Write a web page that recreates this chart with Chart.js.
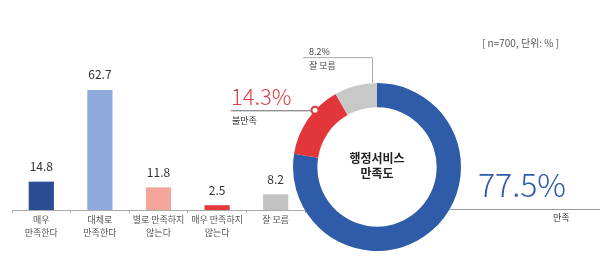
<!DOCTYPE html>
<html>
<head>
<meta charset="utf-8">
<script src="https://cdn.jsdelivr.net/npm/chart.js@4"></script>
<style>
  body { margin: 0; background: #fff; }
  #wrap { position: relative; width: 600px; height: 269px; }
  canvas { position: absolute; left: 0; top: 0; }
</style>
</head>
<body>
<div id="wrap">
  <canvas id="barChart" width="320" height="269"></canvas>
  <canvas id="donutChart" width="600" height="269"></canvas>
</div>
<script>
const categories = [["매우", "만족한다"], ["대체로", "만족한다"], ["별로 만족하지", "않는다"], ["매우 만족하지", "않는다"], "잘 모름"];
const barValues = [14.8, 62.7, 11.8, 2.5, 8.2];
const barColors = ["#2b4c92", "#8eaadc", "#f4a59b", "#e2393a", "#c2c2c2"];

const donutLabels = ["만족", "불만족", "잘 모름"];
const donutValues = [77.5, 14.3, 8.2];
const donutColors = ["#2f5ca9", "#e3363a", "#c8c8c8"];

const centerTitle = ["행정서비스", "만족도"];
const noteText = "[ n=700, 단위: % ]";

const FONT = "'Noto Sans CJK KR', 'Noto Sans', sans-serif";
Chart.defaults.font.family = FONT;

// numbers above the bars
const valueLabels = {
  id: "valueLabels",
  afterDatasetsDraw(chart) {
    const ctx = chart.ctx;
    ctx.save();
    ctx.font = "12px " + FONT;
    ctx.fillStyle = "#333";
    ctx.textAlign = "center";
    ctx.textBaseline = "middle";
    chart.getDatasetMeta(0).data.forEach((bar, i) => {
      ctx.fillText(barValues[i].toFixed(1), bar.x, bar.y - 15);
    });
    ctx.restore();
  },
};

// center title, leader lines and big percentages
const donutNotes = {
  id: "donutNotes",
  afterDraw(chart) {
    const ctx = chart.ctx;
    const arcs = chart.getDatasetMeta(0).data;
    const cx = arcs[0].x, cy = arcs[0].y, r = arcs[0].outerRadius;
    ctx.save();

    ctx.fillStyle = "#222";
    ctx.textAlign = "center";
    ctx.textBaseline = "middle";
    ctx.font = "bold 12px " + FONT;
    ctx.fillText(centerTitle[0], cx, cy - 9);
    ctx.fillText(centerTitle[1], cx, cy + 6);

    ctx.textAlign = "left";
    ctx.font = "10px " + FONT;
    ctx.fillStyle = "#555";
    ctx.fillText(noteText, 482, 43);

    // 불만족
    const red = arcs[1];
    const a1 = red.startAngle + (red.endAngle - red.startAngle) * 0.65;
    const px = cx + Math.cos(a1) * r, py = cy + Math.sin(a1) * r;
    ctx.strokeStyle = "#666";
    ctx.lineWidth = 1;
    ctx.beginPath();
    ctx.moveTo(231, py + 0.5);
    ctx.lineTo(px, py + 0.5);
    ctx.stroke();
    ctx.beginPath();
    ctx.arc(px, py, 3.5, 0, Math.PI * 2);
    ctx.fillStyle = "#fff";
    ctx.fill();
    ctx.strokeStyle = donutColors[1];
    ctx.lineWidth = 2;
    ctx.stroke();
    ctx.fillStyle = "#dc3c40";
    ctx.font = "300 22px " + FONT;
    ctx.textBaseline = "alphabetic";
    ctx.fillText(donutValues[1] + "%", 231, py - 5);
    ctx.fillStyle = "#333";
    ctx.font = "9px " + FONT;
    ctx.textBaseline = "middle";
    ctx.fillText(donutLabels[1], 232, py + 10);

    // 잘 모름
    const gray = arcs[2];
    const a2 = gray.endAngle - 0.06;
    const gx = cx + Math.cos(a2) * r, gy = cy + Math.sin(a2) * r;
    const ly = gy - 26;
    ctx.strokeStyle = "#aaa";
    ctx.lineWidth = 1;
    ctx.beginPath();
    ctx.moveTo(Math.round(gx) + 0.5, gy);
    ctx.lineTo(Math.round(gx) + 0.5, ly + 0.5);
    ctx.lineTo(303, ly + 0.5);
    ctx.stroke();
    ctx.fillStyle = "#444";
    ctx.font = "9px " + FONT;
    ctx.fillText(donutValues[2] + "%", 309, ly - 6);
    ctx.fillText(donutLabels[2], 309, ly + 8);

    // 만족
    const a0 = Math.PI / 6;
    const bx = cx + Math.cos(a0) * r, by = cy + Math.sin(a0) * r;
    ctx.strokeStyle = "#999";
    ctx.beginPath();
    ctx.moveTo(bx, by + 0.5);
    ctx.lineTo(600, by + 0.5);
    ctx.stroke();
    ctx.fillStyle = donutColors[0];
    ctx.font = "300 32px " + FONT;
    ctx.textBaseline = "alphabetic";
    ctx.fillText(donutValues[0] + "%", 478, by - 12);
    ctx.fillStyle = "#333";
    ctx.font = "9px " + FONT;
    ctx.textBaseline = "middle";
    ctx.fillText(donutLabels[0], 553, by + 9);

    ctx.restore();
  },
};

const barChart = new Chart(document.getElementById("barChart").getContext("2d"), {
  type: "bar",
  data: {
    labels: categories,
    datasets: [
      {
        data: barValues,
        backgroundColor: barColors,
        categoryPercentage: 1,
        barPercentage: 0.43,
      },
    ],
  },
  options: {
    responsive: false,
    animation: false,
    events: [],
    layout: { padding: { left: 12, right: 15, top: 30, bottom: 0 } },
    plugins: {
      legend: { display: false },
      tooltip: { enabled: false },
    },
    scales: {
      x: {
        afterFit: (scale) => {
          scale.height = 59;
        },
        border: { display: true, color: "#aaa" },
        grid: { drawOnChartArea: false, drawTicks: true, tickLength: 3, color: "#aaa" },
        ticks: {
          color: "#555",
          padding: 0,
          font: { size: 9, lineHeight: 1.45 },
          maxRotation: 0,
          autoSkip: false,
        },
      },
      y: { display: false, min: 0, max: 94 },
    },
  },
  plugins: [valueLabels],
});

const donutChart = new Chart(document.getElementById("donutChart").getContext("2d"), {
  type: "doughnut",
  data: {
    labels: donutLabels,
    datasets: [
      {
        data: donutValues,
        backgroundColor: donutColors,
        borderWidth: 0,
      },
    ],
  },
  options: {
    responsive: false,
    animation: false,
    events: [],
    cutout: "71%",
    layout: { padding: { left: 293, right: 139, top: 83, bottom: 18 } },
    plugins: {
      legend: { display: false },
      tooltip: { enabled: false },
    },
  },
  plugins: [donutNotes],
});
</script>
</body>
</html>
